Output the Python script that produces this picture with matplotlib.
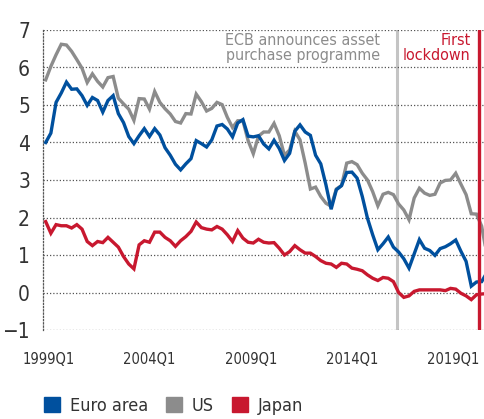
import matplotlib
matplotlib.use('Agg')
import matplotlib.pyplot as plt
from matplotlib import font_manager
from matplotlib.patches import Patch

# pick a narrow font if one is there
names = set(f.name for f in font_manager.fontManager.ttflist)
stretch = 'normal'
if 'Liberation Sans Narrow' in names:
    fam = 'Liberation Sans Narrow'
elif any(f.name == 'DejaVu Sans' and f.stretch == 'condensed' for f in font_manager.fontManager.ttflist):
    fam = 'DejaVu Sans'
    stretch = 'condensed'
else:
    fam = 'Liberation Sans'
plt.rcParams['font.family'] = [fam, 'DejaVu Sans']
plt.rcParams['font.stretch'] = stretch

# quarterly data, 1999Q1 .. 2020Q2
euro = [4.00, 4.25, 5.07, 5.32, 5.61, 5.42, 5.43, 5.25, 4.99, 5.20,
        5.12, 4.81, 5.12, 5.25, 4.77, 4.53, 4.16, 3.97, 4.18, 4.37,
        4.16, 4.37, 4.20, 3.86, 3.66, 3.42, 3.27, 3.43, 3.57, 4.05,
        3.97, 3.88, 4.07, 4.44, 4.48, 4.36, 4.15, 4.52, 4.61, 4.17,
        4.15, 4.18, 3.96, 3.83, 4.06, 3.84, 3.52, 3.71, 4.30, 4.47,
        4.28, 4.19, 3.66, 3.43, 2.87, 2.22, 2.74, 2.85, 3.20, 3.21,
        3.05, 2.56, 1.98, 1.54, 1.14, 1.30, 1.48, 1.21, 1.08, 0.90,
        0.65, 1.03, 1.41, 1.18, 1.12, 0.99, 1.17, 1.22, 1.30, 1.40,
        1.10, 0.83, 0.17, 0.28, 0.29, 0.53]
us = [5.67, 6.03, 6.34, 6.62, 6.60, 6.43, 6.21, 5.98, 5.60, 5.83,
      5.63, 5.48, 5.73, 5.76, 5.18, 5.03, 4.89, 4.59, 5.17, 5.16,
      4.89, 5.36, 5.07, 4.90, 4.76, 4.56, 4.52, 4.77, 4.76, 5.29,
      5.09, 4.84, 4.91, 5.07, 5.01, 4.67, 4.40, 4.58, 4.58, 4.05,
      3.70, 4.17, 4.28, 4.28, 4.51, 4.18, 3.66, 3.80, 4.30, 4.07,
      3.45, 2.76, 2.81, 2.56, 2.38, 2.30, 2.76, 2.85, 3.45, 3.49,
      3.41, 3.18, 3.00, 2.69, 2.31, 2.62, 2.67, 2.61, 2.36, 2.20,
      1.94, 2.52, 2.78, 2.65, 2.59, 2.62, 2.92, 2.99, 3.00, 3.18,
      2.89, 2.61, 2.10, 2.09, 1.77, 1.00]
japan = [1.89, 1.58, 1.81, 1.78, 1.78, 1.72, 1.81, 1.69, 1.36, 1.25,
         1.36, 1.33, 1.47, 1.34, 1.21, 0.96, 0.76, 0.63, 1.27, 1.38,
         1.34, 1.61, 1.61, 1.47, 1.38, 1.23, 1.38, 1.49, 1.63, 1.88,
         1.73, 1.69, 1.67, 1.76, 1.69, 1.54, 1.36, 1.65, 1.45, 1.34,
         1.32, 1.42, 1.34, 1.32, 1.33, 1.18, 1.00, 1.09, 1.25, 1.14,
         1.05, 1.05, 0.96, 0.85, 0.78, 0.76, 0.67, 0.78, 0.76, 0.65,
         0.62, 0.58, 0.47, 0.38, 0.32, 0.40, 0.38, 0.29, 0.00, -0.13,
         -0.09, 0.03, 0.07, 0.07, 0.07, 0.07, 0.07, 0.05, 0.11, 0.09,
         -0.02, -0.09, -0.19, -0.06, -0.04, -0.03]
tick_labels = ['1999Q1', '2004Q1', '2009Q1', '2014Q1', '2019Q1']

x = list(range(len(euro)))

blue = '#00509e'
grey = '#8c8c8c'
red = '#c8182f'
txt = '#333333'

fig = plt.figure(figsize=(4.84, 4.19), dpi=100)
ax = fig.add_axes([43.3/484, 1 - 330/419, 1 - 43.3/484, 300/419])

# event lines
ax.axvline(67.6, color='#c4c4c4', lw=2.2, zorder=1)
ax.axvline(83.5, color=red, lw=2.4, zorder=4)

ax.plot(x, euro, color=blue, lw=2.4, zorder=3, solid_joinstyle='miter')
ax.plot(x, us, color=grey, lw=2.4, zorder=2, solid_joinstyle='miter')
ax.plot(x, japan, color=red, lw=2.4, zorder=3, solid_joinstyle='miter')

ax.set_xlim(-0.46, 84.45)
ax.set_ylim(-1, 7)
ax.set_yticks(range(-1, 8))
ax.set_xticks([0.5, 19.9, 39.5, 59.0, 78.6])
ax.set_xticklabels(tick_labels)
ax.tick_params(axis='y', length=0, pad=9.5, labelsize=15, labelcolor=txt)
ax.tick_params(axis='x', length=0, pad=15.5, labelsize=10.5, labelcolor=txt)

ax.grid(axis='y', color='#555555', lw=0.9, linestyle=(0, (1, 1.6)), zorder=0)
for s in ['top', 'right', 'bottom']:
    ax.spines[s].set_visible(False)
ax.spines['left'].set_linestyle((0, (1, 1.6)))
ax.spines['left'].set_color('#555555')
ax.spines['left'].set_linewidth(0.9)

ax.annotate('ECB announces asset\npurchase programme', xy=(67.6, 1), xycoords=('data', 'axes fraction'),
            xytext=(-12, -2.5), textcoords='offset points', ha='right', va='top',
            color=grey, fontsize=11.5, linespacing=1.0)
ax.annotate('First\nlockdown', xy=(83.5, 1), xycoords=('data', 'axes fraction'),
            xytext=(-6, -2.5), textcoords='offset points', ha='right', va='top',
            color=red, fontsize=11.5, linespacing=1.0)

handles = [Patch(color=blue), Patch(color=grey), Patch(color=red)]
fig.legend(handles, ['Euro area', 'US', 'Japan'], loc='center left',
           bbox_to_anchor=(44/484, 1 - 406/419), ncol=3, frameon=False,
           fontsize=13, handlelength=0.88, handleheight=0.88, handletextpad=0.55,
           columnspacing=1.0, borderpad=0, borderaxespad=0, labelcolor=txt)

fig.savefig('out.png', dpi=100)
